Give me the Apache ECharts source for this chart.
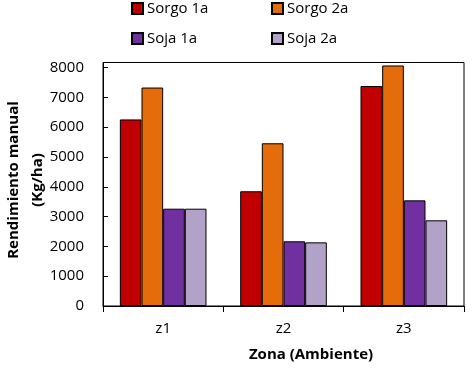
<!DOCTYPE html>
<html>
<head>
<meta charset="utf-8">
<script src="https://cdn.jsdelivr.net/npm/echarts@6/dist/echarts.min.js"></script>
<style>
html,body{margin:0;padding:0;background:#fff;}
#c{width:475px;height:369px;}
</style>
</head>
<body>
<div id="c"></div>
<script>
var categories = ['z1', 'z2', 'z3'];
var sorgo1a = [6260, 3850, 7380];
var sorgo2a = [7330, 5460, 8070];
var soja1a = [3265, 2170, 3545];
var soja2a = [3265, 2135, 2875];
var seriesNames = ['Sorgo 1a', 'Sorgo 2a', 'Soja 1a', 'Soja 2a'];
var yTicks = [0, 1000, 2000, 3000, 4000, 5000, 6000, 7000, 8000];

var colors = ['#C00000', '#E46C0A', '#7030A0', '#B3A2C7'];
var FONT = 'Open Sans';
var values = [sorgo1a, sorgo2a, soja1a, soja2a];

var chart = echarts.init(document.getElementById('c'), null, {renderer: 'canvas'});

var legendPos = [[131, 1], [271, 1], [131, 31], [271, 31]];
var legends = seriesNames.map(function (n, i) {
  return {
    data: [n],
    left: legendPos[i][0],
    top: legendPos[i][1],
    padding: 0,
    itemWidth: 11,
    itemHeight: 11,
    itemGap: 0,
    icon: 'rect',
    textStyle: {fontFamily: FONT, fontSize: 15, color: '#000', padding: [0, 0, 0, -1]},
    selectedMode: false
  };
});

var option = {
  animation: false,
  color: colors,
  legend: legends,
  grid: {left: 103, right: 11, top: 62.5, bottom: 63, show: true, borderColor: '#000', borderWidth: 1},
  xAxis: {
    type: 'category',
    data: categories,
    axisLine: {lineStyle: {color: '#000', width: 1}},
    axisTick: {show: true, inside: false, length: 6, lineStyle: {color: '#000'}},
    axisLabel: {color: '#000', fontFamily: FONT, fontSize: 15, margin: 15}
  },
  yAxis: {
    type: 'value',
    min: 0,
    max: 8170,
    interval: 1000,
    axisLine: {show: true, lineStyle: {color: '#000', width: 1}},
    axisTick: {show: true, inside: true, length: 5, lineStyle: {color: '#000'}},
    axisLabel: {color: '#000', fontFamily: FONT, fontSize: 15, margin: 19, showMaxLabel: false,
      formatter: function (v) { return yTicks.indexOf(v) >= 0 ? String(v) : ''; }},
    splitLine: {show: false}
  },
  graphic: [
    {
      type: 'text',
      x: 26, y: 180,
      rotation: Math.PI / 2,
      style: {
        text: 'Rendimiento manual\n(Kg/ha)',
        fontFamily: FONT, fontSize: 15, fontWeight: 'bold', fill: '#000',
        align: 'center', verticalAlign: 'middle', lineHeight: 24
      }
    },
    {
      type: 'text',
      x: 311, y: 355,
      style: {
        text: 'Zona (Ambiente)',
        fontFamily: FONT, fontSize: 15, fontWeight: 'bold', fill: '#000',
        align: 'center', verticalAlign: 'middle'
      }
    }
  ],
  series: seriesNames.map(function (n, i) {
    return {
      name: n,
      type: 'bar',
      data: values[i],
      barGap: '0%',
      barCategoryGap: '28%',
      itemStyle: {color: colors[i], borderColor: '#000', borderWidth: 1}
    };
  })
};
chart.setOption(option);
</script>
</body>
</html>
